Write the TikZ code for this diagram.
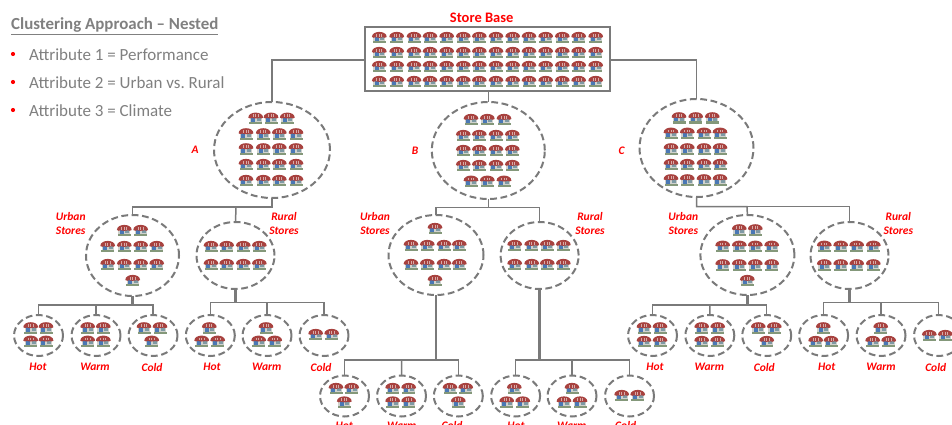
\documentclass[tikz,border=0pt]{standalone}
\usepackage{fontspec}
\setmainfont{Carlito}
\usetikzlibrary{shapes.geometric}
\definecolor{ln}{HTML}{7A7A7A}
\definecolor{txt}{HTML}{808080}
\definecolor{awn}{HTML}{A8423F}
\definecolor{dor}{HTML}{4A78B5}
\definecolor{win}{HTML}{7F9AA5}
\definecolor{bas}{HTML}{84987A}
\definecolor{wal}{HTML}{CFD2CE}
\definecolor{stp}{HTML}{D8ABA8}
\tikzset{
  clu/.style={ellipse,draw=ln,line width=2pt,dash pattern=on 6.8pt off 3.6pt,inner sep=0pt,outer sep=0pt,minimum width=#1},
  tag/.style={text=red,font=\fontsize{11.5}{13.3}\selectfont\bfseries\itshape,align=center,inner sep=0pt},
  conn/.style={draw=ln,line width=1.5pt},
  trunk/.style={draw=ln,line width=2.5pt},
  attr/.style={text=txt,anchor=west,inner sep=0pt,font=\fontsize{17}{19}\selectfont},
  dotb/.style={circle,fill=red,inner sep=0pt,minimum size=4.2pt},
}
\newcommand{\storeat}[2]{%
  \begin{scope}[shift={(#1,#2)}]
    \fill[wal] (-6,-1) rectangle (6,5);
    \fill[dor] (-4.6,-.5) rectangle (-.6,4.2);
    \fill[win] (1,-.5) rectangle (5,3.4);
    \fill[bas] (-6.5,4.2) rectangle (6.5,6.3);
    \fill[awn] (-7.4,0) .. controls (-7.4,-6.8) and (7.4,-6.8) .. (7.4,0) .. controls (6,1) and (5,1) .. (3.7,0.2) .. controls (2,1) and (-2,1) .. (-3.7,0.2) .. controls (-5,1) and (-6,1) .. (-7.4,0) -- cycle;
    \fill[stp] (-3.1,-3.2) rectangle (-2.1,-.4);
    \fill[stp] (-.5,-3.2) rectangle (.5,-.4);
    \fill[stp] (2.1,-3.2) rectangle (3.1,-.4);
  \end{scope}}
\newcommand{\iconrow}[2]{\foreach \ix in {#2}{\storeat{\ix}{#1}}}
\newcommand{\leafnode}[3]{\node[clu=49pt,minimum height=41pt] (#1) at (#2,#3) {};}
\begin{document}
\begin{tikzpicture}[x=1pt,y=-1pt]
\useasboundingbox (0,0) rectangle (952,425);
\clip (0,0) rectangle (952,425);
\fill[white] (0,0) rectangle (952,425);

% legend
\node[anchor=west,inner sep=0pt,text=txt,font=\fontsize{16.9}{19}\selectfont\bfseries] (title) at (11,26) {\underline{Clustering Approach – Nested}};
\node[dotb] (d1) at (13,54) {};
\node[dotb] (d2) at (13,82) {};
\node[dotb] (d3) at (13,110) {};
\node[attr] (a1) at (29,55) {Attribute 1 = Performance};
\node[attr] (a2) at (29,83) {Attribute 2 = Urban vs.\ Rural};
\node[attr] (a3) at (29,111) {Attribute 3 = Climate};

% store base
\node[text=red,font=\fontsize{14.5}{16}\selectfont\bfseries,inner sep=0pt] (sbl) at (481.7,18) {Store Base};
\node[draw=ln,line width=2.5pt,inner sep=0pt,outer sep=0pt,minimum width=245pt,minimum height=64pt] (base) at (487.5,59) {};

% first level
\node[clu=116pt,minimum height=96pt] (A) at (272,150) {};
\node[clu=113pt,minimum height=97pt] (B) at (488.3,150.5) {};
\node[clu=114pt,minimum height=98pt] (C) at (696.5,148) {};
\node[tag] (lA) at (195,150) {A};
\node[tag] (lB) at (415,151) {B};
\node[tag] (lC) at (621.7,151) {C};

% second level
\node[clu=93pt,minimum height=81pt] (AU) at (132.5,255.5) {};
\node[clu=78pt,minimum height=67pt] (AR) at (235.5,255.5) {};
\node[clu=95pt,minimum height=80pt] (BU) at (436,255) {};
\node[clu=78pt,minimum height=67pt] (BR) at (539.6,255.5) {};
\node[clu=94pt,minimum height=80pt] (CU) at (747.4,255) {};
\node[clu=78pt,minimum height=67pt] (CR) at (849.5,255.5) {};
\foreach \nm/\x in {a/70.7,b/375,c/683.3}{\node[tag] (u\nm) at (\x,223.5) {Urban\\Stores};}
\foreach \nm/\x in {a/284,b/590,c/898.3}{\node[tag] (r\nm) at (\x,223.5) {Rural\\Stores};}

% leaves
\leafnode{l1}{38.5}{335.5}
\leafnode{l2}{96}{335.5}
\leafnode{l3}{153}{335.5}
\leafnode{l4}{210.3}{335.5}
\leafnode{l5}{267}{335.5}
\leafnode{l6}{324}{335.5}
\leafnode{m1}{344.5}{396}
\leafnode{m2}{401.5}{396}
\leafnode{m3}{458.3}{396}
\leafnode{m4}{515.6}{396}
\leafnode{m5}{572}{396}
\leafnode{m6}{629.5}{396}
\leafnode{n1}{652.5}{335.5}
\leafnode{n2}{709.8}{335.5}
\leafnode{n3}{766.7}{335.5}
\leafnode{n4}{823.6}{335.5}
\leafnode{n5}{881}{335.5}
\leafnode{n6}{938.5}{335.5}
\foreach \nm/\t/\x in {l1/Hot/38,l2/Warm/95,l3/Cold/152,l4/Hot/212,l5/Warm/266.7,l6/Cold/321,n1/Hot/655,n2/Warm/709.3,n3/Cold/764.3,n4/Hot/826.7,n5/Warm/881,n6/Cold/935.7}{\node[tag] (t\nm) at (\x,367.3) {\t};}
\foreach \nm/\t/\x in {m1/Hot/344.3,m2/Warm/401.7,m3/Cold/452,m4/Hot/516,m5/Warm/571.7,m6/Cold/625.7}{\node[tag] (t\nm) at (\x,426) {\t};}

% bus coordinates
\coordinate (busA) at (236,207);
\coordinate (busB) at (488,207.3);
\coordinate (busC) at (747,206.7);
\coordinate (busAU) at (133,305);
\coordinate (busAR) at (267,302.3);
\coordinate (busBU) at (401.7,360);
\coordinate (busBR) at (572,360);
\coordinate (busCU) at (710,305);
\coordinate (busCR) at (881,302.3);

% connectors
\draw[conn] (base.west |- 0,60) -| (A.north);
\draw[conn] (base.east |- 0,60) -| (C.north);
\draw[conn] (base.south -| B.north) -- (B.north);
\draw[conn] (A.south) |- (busA) -| (AU.north);
\draw[conn] (busA) -- (AR.north);
\draw[conn] (B.south) |- (busB) -| (BU.north);
\draw[conn] (busB) -| (BR.north);
\draw[conn] (C.south) |- (busC) -- (CU.north);
\draw[conn] (busC) -| (CR.north);
\draw[trunk] (AU.south) -- (AU.south |- busAU);
\draw[conn] (l1.north) |- (busAU -| l3.north) -- (l3.north);
\draw[conn] (l2.north) -- (l2.north |- busAU);
\draw[trunk] (AR.south) -- (AR.south |- busAR);
\draw[conn] (l4.north) |- (busAR -| l6.north) -- (l6.north);
\draw[conn] (l5.north) -- (busAR);
\draw[trunk] (BU.south) -- (BU.south |- busBU);
\draw[conn] (m1.north) |- (busBU -| m3.north) -- (m3.north);
\draw[conn] (m2.north) -- (busBU);
\draw[trunk] (BR.south) -- (BR.south |- busBR);
\draw[conn] (m4.north) |- (busBR -| m6.north) -- (m6.north);
\draw[conn] (m5.north) -- (busBR);
\draw[trunk] (CU.south) -- (CU.south |- busCU);
\draw[conn] (n1.north) |- (busCU -| n3.north) -- (n3.north);
\draw[conn] (n2.north) -- (busCU);
\draw[trunk] (CR.south) -- (CR.south |- busCR);
\draw[conn] (n4.north) |- (busCR -| n6.north) -- (n6.north);
\draw[conn] (n5.north) -- (busCR);

% icons: store base
\foreach \yy in {37,52,66,81}{\iconrow{\yy}{379.3,396.7,414,430,446.7,463.3,479.3,496,512.7,529,545.7,562.3,578.7,595.7}}
% A
\iconrow{117.7}{255.7,271,287.3}
\foreach \yy in {133.3,148.3,164,180}{\iconrow{\yy}{246,263.3,279.3,296}}
% B
\iconrow{119}{471,487.3,504}
\foreach \yy in {135,150,165}{\iconrow{\yy}{463.3,479.3,496,512.3}}
\iconrow{180.7}{471,487.3,504}
% C
\iconrow{117.3}{679,695.7,712.3}
\foreach \yy in {132.7,148.3,164,179.3}{\iconrow{\yy}{671,687.3,704,720}}
% AU
\iconrow{230}{124.3,140.7}
\foreach \yy in {246,264}{\iconrow{\yy}{107.7,124.3,140.7,156.7}}
\iconrow{280}{132.7}
% AR
\foreach \yy in {246,264}{\iconrow{\yy}{211,226.7,243.3,259.3}}
% BU
\iconrow{228}{435}
\foreach \yy in {245,264}{\iconrow{\yy}{411,427.3,444,459.3}}
\iconrow{280}{435}
% BR
\foreach \yy in {245,264}{\iconrow{\yy}{514.7,531.7,547.3,563.3}}
% CU
\iconrow{229.3}{739.3,755.3}
\foreach \yy in {245.7,264.3}{\iconrow{\yy}{722.7,739.3,755.3,771.7}}
\iconrow{280}{747.3}
% CR
\foreach \yy in {245.7,264.3}{\iconrow{\yy}{824.3,840.7,856.7,873.3}}
% leaves A
\foreach \yy in {327.3,340.7}{\iconrow{\yy}{30.7,46,87.7,103.3}}
\iconrow{327.3}{144,160,209.3,266}
\iconrow{340.7}{151.7,201.7,217.7,258.7,274.7}
\iconrow{334}{315.7,331.7}
% leaves B
\iconrow{388}{336,351.7,392.7,408.7,450,465.7,514.3,572}
\iconrow{401.5}{344.3,392.7,408.7,458.3,506.7,522.7,564,580}
\iconrow{395}{621.7,637.7}
% leaves C
\foreach \yy in {327.3,341}{\iconrow{\yy}{644,660,701.7,717.7}}
\iconrow{327.3}{758.3,774.3,823.3,880.7}
\iconrow{341}{766.7,815.7,831,872.7,888.7}
\iconrow{335}{929.3,945.3}
\end{tikzpicture}
\end{document}
